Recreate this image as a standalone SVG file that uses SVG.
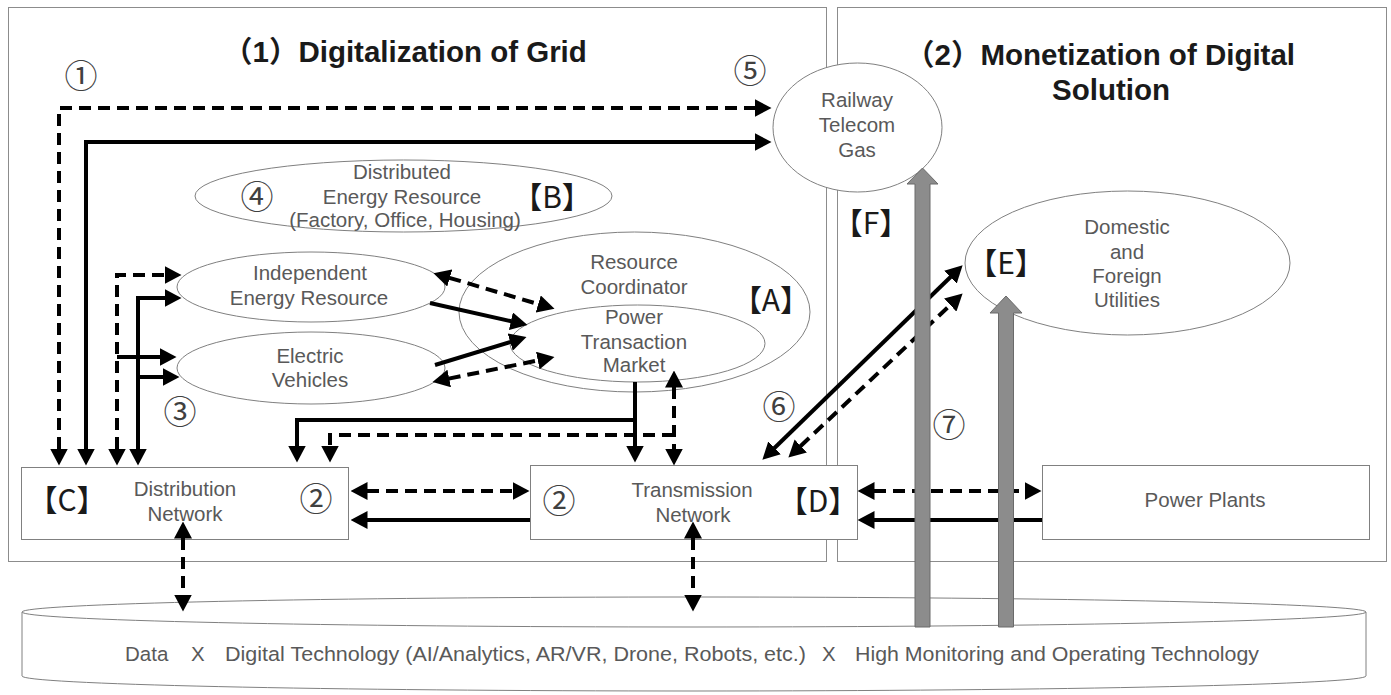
<svg xmlns="http://www.w3.org/2000/svg" width="1391" height="695" viewBox="0 0 1391 695">
<style>
.pn{fill:none;stroke:#8c8c8c;stroke-width:1}
.nd{fill:#fff;stroke:#808080;stroke-width:1}
.lbl{font-family:"Liberation Sans",Arial,sans-serif;font-size:20.5px;fill:#595959;text-anchor:middle}
.num{font-family:"Noto Sans CJK JP",sans-serif;font-size:33px;fill:#404040;text-anchor:middle}
.brk{font-family:"Noto Sans CJK JP",sans-serif;font-size:30px;fill:#1a1a1a;text-anchor:middle}
.ttl{font-family:"Liberation Sans","Noto Sans CJK JP",sans-serif;font-size:29.5px;font-weight:bold;fill:#1a1a1a}
.s{fill:none;stroke:#000;stroke-width:4;marker-end:url(#ah)}
.d{fill:none;stroke:#000;stroke-width:4;stroke-dasharray:12 7;marker-end:url(#ah)}
.b{marker-start:url(#ah)}
.big{fill:#8c8c8c;stroke:#6a6a6a;stroke-width:1}
</style>
<defs>
<marker id="ah" viewBox="0 0 17 18" refX="0.5" refY="9" markerWidth="17" markerHeight="18" markerUnits="userSpaceOnUse" orient="auto-start-reverse">
<path d="M0,0 L17,9 L0,18 z" fill="#000"/>
</marker>
</defs>
<rect width="1391" height="695" fill="#fff"/>

<g id="panel-grid">
<rect class="pn" x="8.5" y="7.5" width="818" height="554"/>
<text class="ttl" x="223" y="62">（1）Digitalization of Grid</text>
</g>
<g id="panel-monetization">
<rect class="pn" x="837.5" y="7.5" width="549" height="554"/>
<text class="ttl" x="905" y="65">（2）Monetization of Digital</text>
<text class="ttl" x="1111" y="100" text-anchor="middle">Solution</text>
</g>

<g id="data-platform">
<path class="nd" d="M22,612 V676 A672,15 0 0 0 1366,676 V612 Z"/>
<ellipse class="nd" cx="694" cy="612" rx="672" ry="15"/>
<text class="lbl" y="661" style="text-anchor:start"><tspan x="125">Data</tspan><tspan x="191">X</tspan><tspan x="225" textLength="581" lengthAdjust="spacingAndGlyphs">Digital Technology (AI/Analytics, AR/VR, Drone, Robots, etc.)</tspan><tspan x="822">X</tspan><tspan x="855" textLength="404" lengthAdjust="spacingAndGlyphs">High Monitoring and Operating Technology</tspan></text>
</g>

<g id="railway-telecom-gas">
<ellipse class="nd" cx="857.5" cy="127.5" rx="84.5" ry="64.5"/>
<text class="lbl" x="857" y="107">Railway</text>
<text class="lbl" x="857" y="132">Telecom</text>
<text class="lbl" x="857" y="157">Gas</text>
</g>

<g id="distributed-energy-resource">
<ellipse class="nd" cx="403.5" cy="196" rx="208.5" ry="36"/>
<text class="lbl" x="402" y="179">Distributed</text>
<text class="lbl" x="402" y="204">Energy Resource</text>
<text class="lbl" x="405" y="227">(Factory, Office, Housing)</text>
<text class="num" x="257" y="209">④</text>
<text class="brk" x="552" y="208">【B】</text>
</g>

<g id="independent-energy-resource">
<ellipse class="nd" cx="311" cy="287" rx="134" ry="35"/>
<text class="lbl" x="310" y="280">Independent</text>
<text class="lbl" x="309" y="305">Energy Resource</text>
</g>

<g id="electric-vehicles">
<ellipse class="nd" cx="311" cy="368" rx="134" ry="36"/>
<text class="lbl" x="310" y="363">Electric</text>
<text class="lbl" x="310" y="387">Vehicles</text>
</g>

<g id="resource-coordinator">
<ellipse class="nd" cx="634.5" cy="312" rx="175.5" ry="80"/>
<text class="lbl" x="634" y="269">Resource</text>
<text class="lbl" x="634" y="294">Coordinator</text>
<text class="brk" x="771" y="311">【A】</text>
</g>

<g id="power-transaction-market">
<ellipse class="nd" cx="637.5" cy="343.5" rx="127.5" ry="38.5"/>
<text class="lbl" x="634" y="324">Power</text>
<text class="lbl" x="634" y="349">Transaction</text>
<text class="lbl" x="634" y="372">Market</text>
</g>

<g id="distribution-network">
<rect class="nd" x="21.5" y="467.5" width="327" height="72"/>
<text class="lbl" x="185" y="496">Distribution</text>
<text class="lbl" x="185" y="521">Network</text>
<text class="brk" x="67" y="511">【C】</text>
<text class="num" x="316" y="511">②</text>
</g>

<g id="transmission-network">
<rect class="nd" x="530.5" y="465.5" width="327" height="74"/>
<text class="lbl" x="692" y="497">Transmission</text>
<text class="lbl" x="693" y="522">Network</text>
<text class="brk" x="818" y="512">【D】</text>
<text class="num" x="559" y="513">②</text>
</g>

<g id="power-plants">
<rect class="nd" x="1042.5" y="465.5" width="327" height="74"/>
<text class="lbl" x="1205" y="507">Power Plants</text>
</g>

<g id="utilities">
<ellipse class="nd" cx="1127.5" cy="263" rx="162.5" ry="72"/>
<text class="lbl" x="1127" y="234">Domestic</text>
<text class="lbl" x="1127" y="259">and</text>
<text class="lbl" x="1127" y="283">Foreign</text>
<text class="lbl" x="1127" y="307">Utilities</text>
<text class="brk" x="1006" y="274">【E】</text>
</g>

<g id="connectors">
<path class="d b" d="M59,449 V108 H755"/>
<path class="s b" d="M86,449 V142 H755"/>
<path class="d b" d="M117,449 V275 H165"/>
<path class="s" d="M117,357 H160"/>
<path class="s b" d="M138,449 V298 H165"/>
<path class="s" d="M138,377 H163"/>
<path class="d b" d="M449.3,277.8 L538.7,304.2"/>
<path class="s" d="M430,303 L511.4,321.3"/>
<path class="s" d="M435,365 L510.7,341.9"/>
<path class="d b" d="M448.7,378.6 L538.3,360.4"/>
<path class="s" d="M635,382 V446"/>
<path class="s" d="M635,420 H297 V446"/>
<path class="d b" d="M674,387 V449"/>
<path class="d" d="M674,435 H330 V446"/>
<path class="d b" d="M367,491 H513"/>
<path class="s" d="M530,520 H367"/>
<path class="d b" d="M874,491 H1025"/>
<path class="s" d="M1042,520 H874"/>
<path class="d b" d="M183,538 V595"/>
<path class="d b" d="M693,538 V595"/>
<path class="s b" d="M774.2,448.2 L950.8,276.8"/>
<path class="d b" d="M800.4,446.3 L950.6,304.7"/>
</g>

<g id="value-arrows">
<path class="big" d="M915,627 V184 H907 L922.5,168 L938,184 H930 V627 Z"/>
<path class="big" d="M998.5,627 V313 H990 L1006,296 L1022,313 H1013.5 V627 Z"/>
</g>

<g id="step-labels">
<text class="num" x="81" y="88">①</text>
<text class="num" x="750" y="83">⑤</text>
<text class="num" x="180" y="424">③</text>
<text class="num" x="779" y="419">⑥</text>
<text class="num" x="949" y="437">⑦</text>
<text class="brk" x="871" y="234">【F】</text>
</g>
</svg>
